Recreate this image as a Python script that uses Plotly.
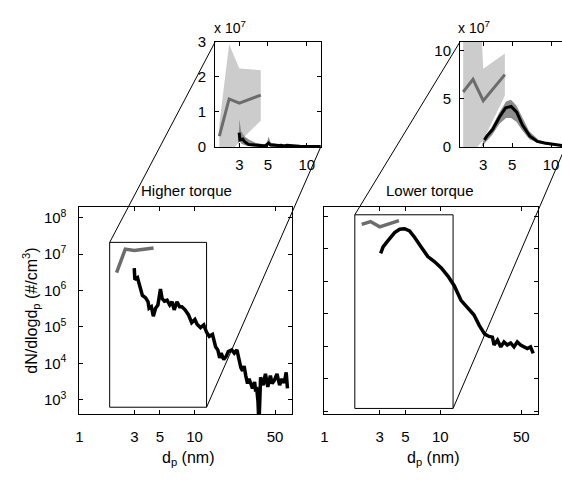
import math
import plotly.graph_objects as go

# ---------------- data ----------------
# Higher torque: size distribution (nm, #/cm3)
dp_hi = [2.99, 3.03, 3.19, 3.30, 3.52, 3.76, 3.94, 4.02, 4.21, 4.38,
         4.58, 4.80, 5.05, 5.22, 5.47, 5.77, 6.08, 6.36, 6.65, 7.02,
         7.40, 7.74, 8.26, 8.83, 9.43, 10.06, 10.5, 11.25, 12.0, 12.7,
         13.4, 14.3, 15.2, 15.9, 16.5, 17.0, 17.9, 18.8, 19.6, 21.0,
         22.1, 23.3, 24.4, 25.2, 26.1, 26.9, 27.8, 28.8, 29.7, 31.8,
         33.2, 33.9, 34.5, 35.5, 36.2, 37.4, 39.4, 41.2, 43.2, 45.5,
         47.1, 49.2, 51.9, 54.7, 57.3, 60.0, 62.4, 64.0]
conc_hi = [4.1e6, 2.0e6, 2.25e6, 1.5e6, 7.3e5, 6.25e5, 4.9e5, 3.26e5, 3.6e5, 1.97e5,
           3.26e5, 4.0e5, 1.1e6, 6.0e5, 5.1e5, 5.4e5, 4.0e5, 4.9e5, 2.94e5, 4.9e5,
           3.6e5, 3.6e5, 2.94e5, 2.17e5, 1.31e5, 1.6e5, 1.18e5, 9.6e4, 1.14e5, 7.1e4,
           5.5e4, 6.2e4, 2.85e4, 2.33e4, 1.4e4, 1.9e4, 1.27e4, 1.55e4, 2.1e4, 2.33e4,
           1.9e4, 2.33e4, 1.03e4, 7.6e3, 6.2e3, 8.4e3, 4.6e3, 2.77e3, 3.75e3, 2.04e3,
           3.05e3, 1.66e3, 2.25e3, 9.0e2, 2.0e2, 4.1e3, 2.5e3, 5.1e3, 2.25e3, 4.6e3,
           2.77e3, 3.4e3, 5.1e3, 2.5e3, 3.75e3, 2.9e3, 5.6e3, 2.04e3]

# Lower torque
dp_lo = [3.06, 3.21, 3.54, 4.04, 4.46, 4.92, 5.43, 6.0, 6.84, 7.81,
         8.9, 10.2, 11.6, 13.2, 15.1, 17.2, 19.5, 21.7, 24.2, 26.4,
         28.2, 29.1, 31.2, 33.3, 35.5, 37.9, 40.5, 43.3, 46.2, 49.4,
         52.7, 56.4, 60.1, 63.5]
conc_lo = [7.3e6, 1.15e7, 1.8e7, 3.2e7, 4.05e7, 4.2e7, 3.6e7, 2.3e7, 1.15e7, 5.8e6,
           4.1e6, 2.6e6, 1.48e6, 7.35e5, 2.6e5, 1.5e5, 9.3e4, 4.4e4, 2.36e4, 2.0e4,
           1.9e4, 1.09e4, 1.53e4, 9.5e3, 1.36e4, 1.09e4, 1.26e4, 9.5e3, 1.36e4, 1.09e4,
           9.5e3, 8.5e3, 9.5e3, 6.0e3]

# reference (grey) series with spread
dp_ref = [2.1, 2.5, 3.0, 4.4]
ref_hi = [0.31e7, 1.37e7, 1.25e7, 1.48e7]
ref_hi_upper = [0.65e7, 2.93e7, 2.24e7, 2.19e7]
ref_hi_lower = [0.0, -0.2e7, 0.15e7, 0.75e7]
ref_lo = [5.7e7, 7.0e7, 4.8e7, 7.5e7]
ref_lo_upper = [13e7, 30e7, 8.1e7, 9.7e7]
ref_lo_lower = [-1e7, -0.5e7, 0.7e7, 5.3e7]

# spread of the black curves (inset shading)
band_dp_hi = [2.95, 3.0, 3.1, 3.3, 3.6, 4.0, 4.6, 4.9, 5.05, 5.25, 6.0, 8.0, 12.8]
band_hi_upper = [0.0, 0.8e7, 0.45e7, 0.3e7, 0.2e7, 0.12e7, 0.08e7, 0.1e7, 0.3e7, 0.12e7, 0.08e7, 0.04e7, 0.02e7]
band_hi_lower = [0.0, 0.2e7, 0.1e7, 0.05e7, 0.02e7, 0.0, 0.0, 0.0, 0.05e7, 0.0, 0.0, 0.0, 0.0]
band_dp_lo = [2.9, 3.06, 3.5, 4.0, 4.5, 4.9, 5.4, 6.0, 6.8, 8.0, 9.5, 12.9]
band_lo_upper = [0.0, 1.0e7, 2.1e7, 3.6e7, 4.7e7, 4.9e7, 4.3e7, 3.0e7, 1.6e7, 0.75e7, 0.4e7, 0.2e7]
band_lo_lower = [0.0, 0.4e7, 1.2e7, 2.4e7, 3.0e7, 3.0e7, 2.6e7, 1.7e7, 0.8e7, 0.4e7, 0.2e7, 0.08e7]

x_ticks_main = [1, 3, 5, 10, 50]
y_ticks_main = [1e2, 1e3, 1e4, 1e5, 1e6, 1e7, 1e8]
x_ticks_inset = [3, 5, 10]
y_ticks_inset_hi = [0, 1e7, 2e7, 3e7]
y_ticks_inset_lo = [0, 5e7, 10e7]

# ---------------- layout geometry ----------------
W, H = 562, 481
def fx(p): return p / W
def fy(p): return 1 - p / H

dom_x1 = [fx(76), fx(290)]
dom_x2 = [fx(322.7), fx(538)]
dom_ymain = [fy(420), fy(205)]
dom_x3 = [fx(212.7), fx(319)]
dom_x4 = [fx(459.3), 1.0]
dom_yins = [fy(143), fy(34)]

rx_main = [0, math.log10(70)]
ry1 = [math.log10(400), math.log10(2e8)]
ry2 = [math.log10(80), math.log10(2e8)]
rx3 = [0.29, 1.108]
rx4 = [0.298, 1.084]
ry3 = [0, 3e7]
ry4 = [0, 1.09e8]

BLACK = "black"
GREY = "rgb(108,108,108)"
LIGHT = "rgb(204,204,204)"
DARK = "rgb(140,140,140)"
LW = 3.5

fig = go.Figure()

def band(x, up, lo, color, xa, ya):
    fig.add_trace(go.Scatter(x=list(x) + list(x)[::-1], y=list(up) + list(lo)[::-1],
                             fill="toself", fillcolor=color, mode="lines",
                             line=dict(width=0, color=color), xaxis=xa, yaxis=ya,
                             hoverinfo="skip"))

# main panels
fig.add_trace(go.Scatter(x=dp_ref, y=ref_hi, mode="lines", line=dict(color=GREY, width=LW), xaxis="x", yaxis="y"))
fig.add_trace(go.Scatter(x=dp_hi, y=conc_hi, mode="lines", line=dict(color=BLACK, width=LW), xaxis="x", yaxis="y"))
fig.add_trace(go.Scatter(x=dp_ref, y=ref_lo, mode="lines", line=dict(color=GREY, width=LW), xaxis="x2", yaxis="y2"))
fig.add_trace(go.Scatter(x=dp_lo, y=conc_lo, mode="lines", line=dict(color=BLACK, width=LW), xaxis="x2", yaxis="y2"))

# insets
band(dp_ref, ref_hi_upper, ref_hi_lower, LIGHT, "x3", "y3")
fig.add_trace(go.Scatter(x=dp_ref, y=ref_hi, mode="lines", line=dict(color=GREY, width=3), xaxis="x3", yaxis="y3"))
band(band_dp_hi, band_hi_upper, band_hi_lower, DARK, "x3", "y3")
fig.add_trace(go.Scatter(x=dp_hi, y=conc_hi, mode="lines", line=dict(color=BLACK, width=3), xaxis="x3", yaxis="y3"))

band(dp_ref, ref_lo_upper, ref_lo_lower, LIGHT, "x4", "y4")
fig.add_trace(go.Scatter(x=dp_ref, y=ref_lo, mode="lines", line=dict(color=GREY, width=3), xaxis="x4", yaxis="y4"))
band(band_dp_lo, band_lo_upper, band_lo_lower, DARK, "x4", "y4")
fig.add_trace(go.Scatter(x=dp_lo, y=conc_lo, mode="lines", line=dict(color=BLACK, width=3), xaxis="x4", yaxis="y4"))

FONT = "Liberation Sans, Arial, sans-serif"
tickfont = dict(family=FONT, size=15, color="black")

def ax_common(**kw):
    d = dict(showline=True, linecolor="black", linewidth=1, ticks="inside", ticklen=4,
             tickcolor="black", tickwidth=1, showgrid=False, zeroline=False,
             tickfont=tickfont, mirror="ticks")
    d.update(kw)
    return d

def sup(v):
    return "10<sup>%d</sup>" % round(math.log10(v))

fig.update_layout(
    width=W, height=H, margin=dict(l=0, r=0, t=0, b=0),
    paper_bgcolor="white", plot_bgcolor="white", showlegend=False,
    xaxis=ax_common(domain=dom_x1, type="log", range=rx_main, tickvals=x_ticks_main,
                    ticktext=[str(v) for v in x_ticks_main], anchor="y", ticklabelstandoff=9),
    yaxis=ax_common(domain=dom_ymain, type="log", range=ry1, tickvals=y_ticks_main[1:],
                    ticktext=[sup(v) for v in y_ticks_main[1:]], anchor="x", ticklabelstandoff=9),
    xaxis2=ax_common(domain=dom_x2, type="log", range=rx_main, tickvals=x_ticks_main,
                     ticktext=[str(v) for v in x_ticks_main], anchor="y2", ticklabelstandoff=9),
    yaxis2=ax_common(domain=dom_ymain, type="log", range=ry2, tickvals=y_ticks_main,
                     showticklabels=False, anchor="x2"),
    xaxis3=ax_common(domain=dom_x3, type="log", range=rx3, tickvals=x_ticks_inset,
                     ticktext=[str(v) for v in x_ticks_inset], anchor="y3", ticklabelstandoff=4),
    yaxis3=ax_common(domain=dom_yins, range=ry3, tickvals=y_ticks_inset_hi,
                     ticktext=["%g" % (v / 1e7) for v in y_ticks_inset_hi], anchor="x3", ticklabelstandoff=5),
    xaxis4=ax_common(domain=dom_x4, type="log", range=rx4, tickvals=x_ticks_inset,
                     ticktext=[str(v) for v in x_ticks_inset], anchor="y4", ticklabelstandoff=4),
    yaxis4=ax_common(domain=dom_yins, range=ry4, tickvals=y_ticks_inset_lo,
                     ticktext=["%g" % (v / 1e7) for v in y_ticks_inset_lo], anchor="x4",
                     mirror=False, ticklabelstandoff=5),
)

# zoom rectangles in main panels
rect_hi = dict(x0=1.83, x1=12.7, y0=620, y1=2.1e7)
rect_lo = dict(x0=1.83, x1=12.9, y0=120, y1=1.13e8)
fig.add_shape(type="rect", xref="x", yref="y", line=dict(color="black", width=1), **rect_hi)
fig.add_shape(type="rect", xref="x2", yref="y2", line=dict(color="black", width=1), **rect_lo)

def to_paper(v, dom, rng, log=True):
    t = (math.log10(v) if log else v)
    return dom[0] + (t - rng[0]) / (rng[1] - rng[0]) * (dom[1] - dom[0])

# connector lines from rectangle corners to inset corners
fig.add_shape(type="line", xref="paper", yref="paper",
              x0=to_paper(rect_hi["x0"], dom_x1, rx_main), y0=to_paper(rect_hi["y1"], dom_ymain, ry1),
              x1=dom_x3[0], y1=dom_yins[1], line=dict(color="black", width=1))
fig.add_shape(type="line", xref="paper", yref="paper",
              x0=to_paper(rect_hi["x1"], dom_x1, rx_main), y0=to_paper(rect_hi["y0"], dom_ymain, ry1),
              x1=dom_x3[1], y1=dom_yins[0], line=dict(color="black", width=1))
ins4_right = to_paper(10 ** 1.11, dom_x4, rx4)
fig.add_shape(type="line", xref="paper", yref="paper",
              x0=to_paper(rect_lo["x0"], dom_x2, rx_main), y0=to_paper(rect_lo["y1"], dom_ymain, ry2),
              x1=dom_x4[0], y1=dom_yins[1], line=dict(color="black", width=1))
fig.add_shape(type="line", xref="paper", yref="paper",
              x0=to_paper(rect_lo["x1"], dom_x2, rx_main), y0=to_paper(rect_lo["y0"], dom_ymain, ry2),
              x1=ins4_right, y1=dom_yins[0], line=dict(color="black", width=1))

# texts
def ann(text, x, y, size, angle=0, xanchor="center", yanchor="middle"):
    fig.add_annotation(text=text, x=x, y=y, xref="paper", yref="paper", showarrow=False,
                       textangle=angle, xanchor=xanchor, yanchor=yanchor,
                       font=dict(family=FONT, size=size, color="black"))

ann("Higher torque", fx(184), fy(188), 15)
ann("Lower torque", fx(429), fy(188), 15)
ann("d<sub>p</sub> (nm)", fx(185), fy(466), 16)
ann("d<sub>p</sub> (nm)", fx(432), fy(466), 16)
ann("dN/dlogd<sub>p</sub> (#/cm<sup>3</sup>)", fx(27), fy(313), 16, angle=-90)
ann("x 10<sup>7</sup>", fx(228), fy(19), 14)
ann("x 10<sup>7</sup>", fx(473), fy(19), 14)

fig.write_html("out.html")
